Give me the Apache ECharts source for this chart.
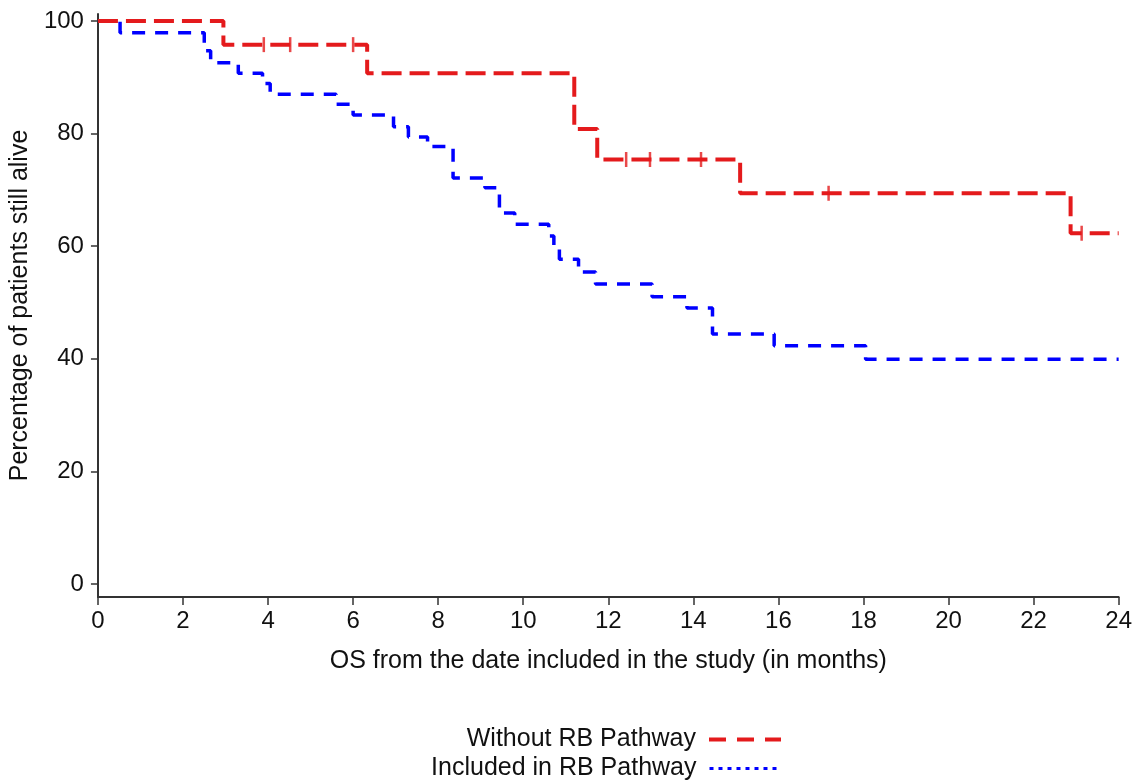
<!DOCTYPE html>
<html>
<head>
<meta charset="utf-8">
<script src="https://cdn.jsdelivr.net/npm/echarts@6/dist/echarts.min.js"></script>
<style>
html,body{margin:0;padding:0;background:#fff;}
#chart{width:1135px;height:783px;}
</style>
</head>
<body>
<div id="chart"></div>
<script>
// ---- Data ----
const seriesNames = ['Without RB Pathway', 'Included in RB Pathway'];

// Kaplan-Meier steps: time in months, survival in %
const withoutTimes = [0, 2.95, 6.33, 11.2, 11.74, 15.1, 22.87, 24];
const withoutSurv  = [100, 95.8, 90.7, 80.8, 75.4, 69.4, 62.3, 62.3];
// censored observations (tick marks) on the "Without" curve
const withoutCensorTimes = [3.9, 4.52, 6.0, 12.42, 12.98, 14.18, 17.18, 23.13];
const withoutCensorSurv  = [95.8, 95.8, 95.8, 75.4, 75.4, 75.4, 69.4, 62.3];

const includedTimes = [0, 0.52, 2.5, 2.65, 3.3, 3.87, 4.05, 5.6, 6.0, 6.95, 7.3, 7.75, 8.35, 9.1, 9.44, 9.8, 10.6, 10.72, 10.85, 11.3, 11.7, 13.03, 13.85, 14.45, 15.9, 18.05, 24];
const includedSurv  = [100, 97.9, 94.7, 92.6, 90.7, 88.9, 87.0, 85.2, 83.3, 81.2, 79.4, 77.7, 72.1, 70.4, 65.9, 63.9, 61.8, 59.8, 57.7, 55.4, 53.3, 51.0, 49.0, 44.4, 42.3, 39.9, 39.9];

const xTicks = [0, 2, 4, 6, 8, 10, 12, 14, 16, 18, 20, 22, 24];
const yTicks = [0, 20, 40, 60, 80, 100];

const xTitle = 'OS from the date included in the study (in months)';
const yTitle = 'Percentage of patients still alive';

// ---- Chart ----
const RED = '#e41a1c';
const BLUE = '#0000ff';
const AXIS = '#333333';
const TXT = '#111111';
const FONT = '"Liberation Sans", Arial, sans-serif';

const zip = (a, b) => a.map((v, i) => [v, b[i]]);

const chart = echarts.init(document.getElementById('chart'), null, {renderer: 'canvas'});

const legendBase = {
  orient: 'vertical',
  right: 352,
  align: 'right',
  padding: 0,
  itemWidth: 72,
  itemHeight: 14,
  itemGap: 0,
  selectedMode: false,
  textStyle: {fontSize: 25, color: TXT, fontFamily: FONT, padding: [0, 8, 0, 0]},
  itemStyle: {color: 'rgba(0,0,0,0)', borderWidth: 0, borderColor: 'rgba(0,0,0,0)'}
};

chart.setOption({
  animation: false,
  backgroundColor: '#ffffff',
  textStyle: {fontFamily: FONT},
  grid: {left: 97, right: 14, top: 14, bottom: 186, containLabel: false},
  legend: [
    Object.assign({}, legendBase, {
      data: [seriesNames[0]], top: 727,
      lineStyle: {width: 4, type: [17, 11], color: RED}
    }),
    Object.assign({}, legendBase, {
      data: [seriesNames[1]], top: 756,
      lineStyle: {width: 3, type: [4, 5], color: BLUE}
    })
  ],
  xAxis: {
    type: 'value', min: 0, max: 24, interval: 2,
    name: xTitle, nameLocation: 'middle', nameGap: 52,
    nameTextStyle: {fontSize: 25, color: TXT, fontFamily: FONT},
    axisLine: {show: true, onZero: false, lineStyle: {color: AXIS, width: 2}},
    axisTick: {show: true, length: 8, lineStyle: {color: AXIS, width: 1.5}},
    axisLabel: {margin: 12, fontSize: 24, color: TXT, fontFamily: FONT, showMinLabel: true, showMaxLabel: true},
    splitLine: {show: false}
  },
  yAxis: {
    type: 'value', min: -2.31, max: 101.24,
    name: yTitle, nameLocation: 'middle', nameGap: 61, nameRotate: 90,
    nameTextStyle: {fontSize: 25, color: TXT, fontFamily: FONT},
    axisLine: {show: true, onZero: false, lineStyle: {color: AXIS, width: 2}},
    axisTick: {show: true, length: 7, customValues: yTicks, lineStyle: {color: AXIS, width: 1.5}},
    axisLabel: {margin: 14, fontSize: 24, color: TXT, fontFamily: FONT, customValues: yTicks},
    splitLine: {show: false}
  },
  series: [
    {
      name: seriesNames[1], type: 'line', step: 'end', symbol: 'none',
      data: zip(includedTimes, includedSurv),
      lineStyle: {color: BLUE, width: 3.5, type: [13, 10]},
      itemStyle: {color: BLUE}, z: 2
    },
    {
      name: seriesNames[0], type: 'line', step: 'end', symbol: 'none',
      data: zip(withoutTimes, withoutSurv),
      lineStyle: {color: RED, width: 4, type: [20, 8]},
      itemStyle: {color: RED}, z: 3
    },
    {
      name: seriesNames[0] + ' (censored)', type: 'scatter', symbol: 'rect',
      symbolSize: [2.5, 15],
      data: zip(withoutCensorTimes, withoutCensorSurv),
      itemStyle: {color: RED}, z: 4
    }
  ]
});
</script>
</body>
</html>
